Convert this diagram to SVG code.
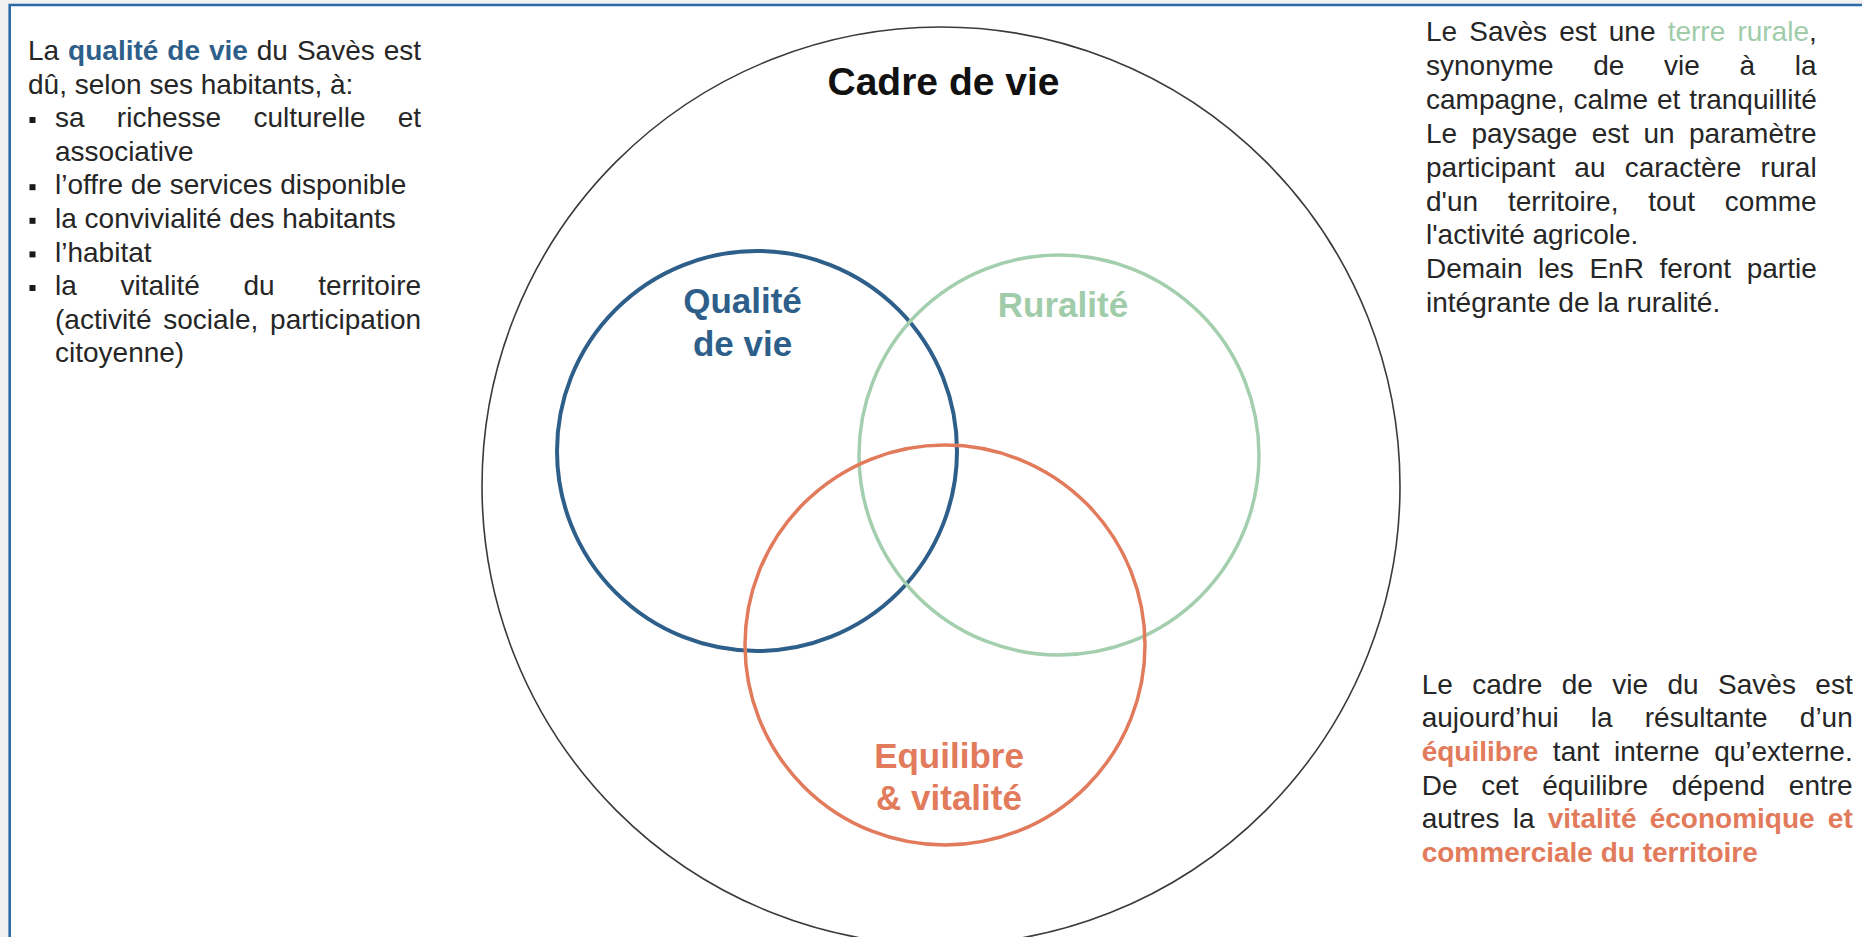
<svg xmlns="http://www.w3.org/2000/svg" width="1862" height="937" viewBox="0 0 1862 937">
<style>
.t{font-family:"Liberation Sans",Arial,sans-serif;font-size:28px;fill:#262626}
.b{font-weight:bold}
.blue{fill:#2E5F8A}
.green{fill:#A0CCAA}
.orange{fill:#E27A5C}
.lbl{font-family:"Liberation Sans",Arial,sans-serif;font-weight:bold;text-anchor:middle}
.bul{fill:#1a1a1a}
</style>
<rect x="0" y="0" width="1862" height="937" fill="#f1f1f1"/>
<rect x="10" y="5" width="1852" height="932" fill="#ffffff"/>
<path d="M9.7 937 V5 H1862" fill="none" stroke="#2A6AA5" stroke-width="2.6"/>

<g id="cadre">
<circle cx="941" cy="486" r="459" fill="none" stroke="#3a3a3a" stroke-width="1.6"/>
<text class="lbl" x="943.5" y="95" font-size="39" fill="#111">Cadre de vie</text>
</g>
<g id="qualite">
<circle cx="757" cy="451" r="200" fill="none" stroke="#2E5F8A" stroke-width="4"/>
<text class="lbl blue" x="742.5" y="313" font-size="35">Qualité</text>
<text class="lbl blue" x="742.5" y="356" font-size="35">de vie</text>
</g>
<g id="ruralite">
<circle cx="1059" cy="455" r="200" fill="none" stroke="#A3CFAE" stroke-width="3.5"/>
<text class="lbl green" x="1063" y="317" font-size="35">Ruralité</text>
</g>
<g id="equilibre">
<circle cx="945" cy="645" r="200" fill="none" stroke="#E27A5C" stroke-width="3.5"/>
<text class="lbl orange" x="949" y="768" font-size="35">Equilibre</text>
<text class="lbl orange" x="949" y="810" font-size="35">&amp; vitalité</text>
</g>

<g id="connectors"></g>

<g id="texte-gauche">
<text class="t" x="28" y="60" word-spacing="1.17">La <tspan class="b blue">qualité de vie</tspan> du Savès est</text>
<text class="t" x="28" y="93.6">dû, selon ses habitants, à:</text>
<rect class="bul" x="29.5" y="117" width="6" height="6"/>
<text class="t" x="55" y="127.2" word-spacing="24.5">sa richesse culturelle et</text>
<text class="t" x="55" y="160.8">associative</text>
<rect class="bul" x="29.5" y="184.2" width="6" height="6"/>
<text class="t" x="55" y="194.4">l’offre de services disponible</text>
<rect class="bul" x="29.5" y="217.8" width="6" height="6"/>
<text class="t" x="55" y="228">la convivialité des habitants</text>
<rect class="bul" x="29.5" y="251.4" width="6" height="6"/>
<text class="t" x="55" y="261.6">l’habitat</text>
<rect class="bul" x="29.5" y="285" width="6" height="6"/>
<text class="t" x="55" y="295.2" word-spacing="35.9">la vitalité du territoire</text>
<text class="t" x="55" y="328.8" word-spacing="4.05">(activité sociale, participation</text>
<text class="t" x="55" y="362.4">citoyenne)</text>
</g>

<g id="texte-droite-haut">
<text class="t" x="1426" y="41" word-spacing="4.38">Le Savès est une <tspan class="green">terre rurale</tspan>,</text>
<text class="t" x="1426" y="74.9" word-spacing="31.9">synonyme de vie à la</text>
<text class="t" x="1426" y="108.8" word-spacing="1.07">campagne, calme et tranquillité</text>
<text class="t" x="1426" y="142.7" word-spacing="6.6">Le paysage est un paramètre</text>
<text class="t" x="1426" y="176.6" word-spacing="11.4">participant au caractère rural</text>
<text class="t" x="1426" y="210.5" word-spacing="22.1">d'un territoire, tout comme</text>
<text class="t" x="1426" y="244.4">l'activité agricole.</text>
<text class="t" x="1426" y="278.3" word-spacing="7.8">Demain les EnR feront partie</text>
<text class="t" x="1426" y="312.2">intégrante de la ruralité.</text>
</g>

<g id="texte-droite-bas">
<text class="t" x="1421.7" y="693.5" word-spacing="11.65">Le cadre de vie du Savès est</text>
<text class="t" x="1421.7" y="727.2" word-spacing="24.35">aujourd’hui la résultante d’un</text>
<text class="t" x="1421.7" y="760.9" word-spacing="6.7"><tspan class="b orange">équilibre</tspan> tant interne qu’externe.</text>
<text class="t" x="1421.7" y="794.6" word-spacing="15.9">De cet équilibre dépend entre</text>
<text class="t" x="1421.7" y="828.3" word-spacing="5.45">autres la <tspan class="b orange">vitalité économique et</tspan></text>
<text class="t b orange" x="1421.7" y="862">commerciale du territoire</text>
</g>
</svg>
